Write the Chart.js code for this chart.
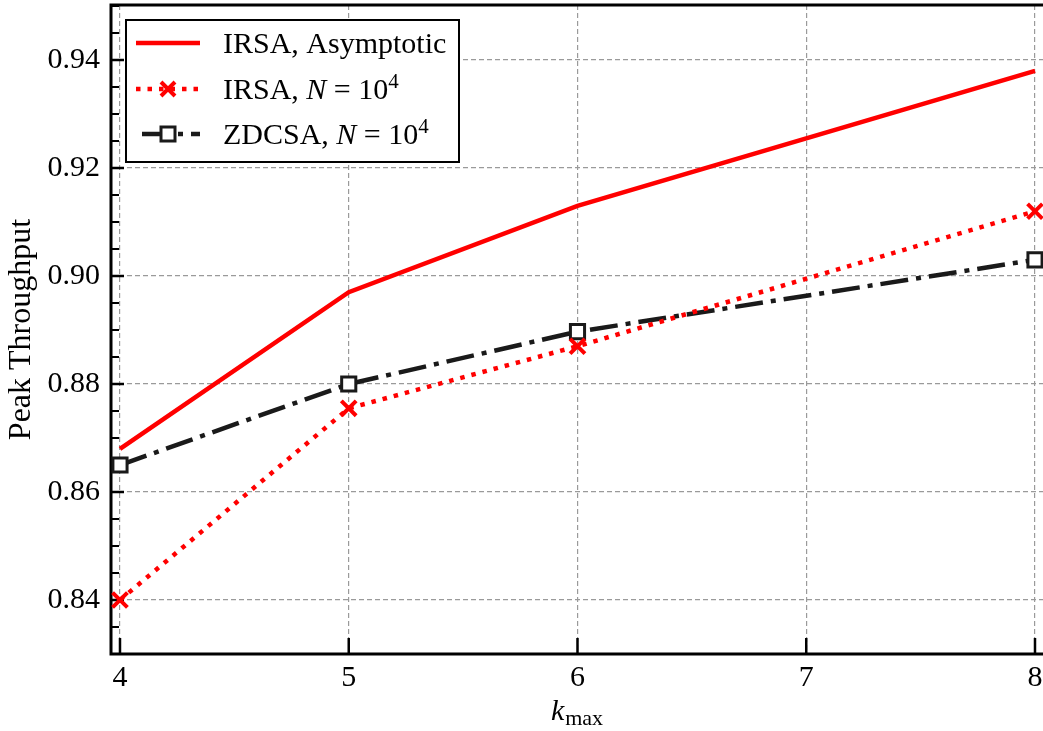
<!DOCTYPE html>
<html>
<head>
<meta charset="utf-8">
<script src="https://cdn.jsdelivr.net/npm/chart.js@4.4.1/dist/chart.umd.min.js"></script>
<style>
  html, body { margin: 0; padding: 0; background: #fff; }
  #wrap { width: 1043px; height: 731px; position: relative; }
</style>
</head>
<body>
<div id="wrap"><canvas id="plot"></canvas></div>
<script>
// values
const kMax = [4, 5, 6, 8];
const irsaAsymptotic = [0.868, 0.897, 0.913, 0.938];
const irsaN1e4 = [0.840, 0.8755, 0.887, 0.912];
const zdcsaN1e4 = [0.865, 0.880, 0.8897, 0.903];

const xTicks = [4, 5, 6, 7, 8];
const yTicks = [0.84, 0.86, 0.88, 0.90, 0.92, 0.94];
const yMinorStep = 0.005;

const FONT = '"Liberation Serif", "Times New Roman", serif';
const RED = '#ff0000';
const DARK = '#1a1a1a';
const GRID = '#9a9a9a';
const DASHDOT = [28, 8, 5, 8];

function pts(ys){ return kMax.map((x, i) => ({ x: x, y: ys[i] })); }

/* ------------------------------
   frame + inward ticks
--------------------------------*/
const framePlugin = {
  id: 'frame',
  beforeDatasetsDraw(chart){
    const { ctx, chartArea: a, scales } = chart;
    const x = scales.x, y = scales.y;
    ctx.save();
    ctx.strokeStyle = '#000';
    ctx.lineCap = 'butt';

    // x ticks (major only)
    ctx.lineWidth = 2.5;
    ctx.beginPath();
    xTicks.forEach(v => {
      const px = x.getPixelForValue(v);
      ctx.moveTo(px, a.bottom);
      ctx.lineTo(px, a.bottom - 16);
    });
    // y major ticks
    yTicks.forEach(v => {
      const py = y.getPixelForValue(v);
      ctx.moveTo(a.left, py);
      ctx.lineTo(a.left + 13, py);
    });
    ctx.stroke();

    // y minor ticks
    ctx.lineWidth = 2;
    ctx.beginPath();
    const start = Math.ceil(y.min / yMinorStep);
    const end = Math.floor(y.max / yMinorStep);
    for (let i = start; i <= end; i++) {
      const v = i * yMinorStep;
      if (yTicks.some(t => Math.abs(t - v) < 1e-6)) continue;
      const py = y.getPixelForValue(v);
      ctx.moveTo(a.left, py);
      ctx.lineTo(a.left + 8, py);
    }
    ctx.stroke();

    // spines (right one falls outside the picture)
    ctx.lineWidth = 3;
    ctx.beginPath();
    ctx.moveTo(a.right + 4, a.top);
    ctx.lineTo(a.left, a.top);
    ctx.lineTo(a.left, a.bottom);
    ctx.lineTo(a.right + 4, a.bottom);
    ctx.stroke();
    ctx.restore();
  },

  afterDraw(chart){
    const { ctx, chartArea: a } = chart;
    ctx.save();
    ctx.fillStyle = '#000';

    // y axis title
    ctx.save();
    ctx.translate(22, (a.top + a.bottom) / 2);
    ctx.rotate(-Math.PI / 2);
    ctx.font = '32px ' + FONT;
    ctx.textAlign = 'center';
    ctx.textBaseline = 'middle';
    ctx.fillText('Peak Throughput', 0, 0);
    ctx.restore();

    // x axis title: k_max
    ctx.textBaseline = 'alphabetic';
    ctx.textAlign = 'left';
    ctx.font = 'italic 30px ' + FONT;
    const kw = ctx.measureText('k').width;
    ctx.font = '22px ' + FONT;
    const mw = ctx.measureText('max').width;
    const cx = (a.left + a.right) / 2;
    let tx = cx - (kw + 1 + mw) / 2;
    ctx.font = 'italic 30px ' + FONT;
    ctx.fillText('k', tx, 720);
    ctx.font = '22px ' + FONT;
    ctx.fillText('max', tx + kw + 1, 725);

    drawLegend(ctx);
    ctx.restore();
  }
};

/* ------------------------------
   LEGEND (drawn by hand)
--------------------------------*/
function richText(ctx, parts, x, base){
  parts.forEach(p => {
    if (p[1] === 'i') ctx.font = 'italic 30px ' + FONT;
    else if (p[1] === 'sup') ctx.font = '21px ' + FONT;
    else ctx.font = '30px ' + FONT;
    const dy = p[1] === 'sup' ? -11 : 0;
    ctx.fillText(p[0], x, base + dy);
    x += ctx.measureText(p[0]).width;
  });
}

function drawLegend(ctx){
  const box = { l: 126, t: 20, r: 459, b: 162 };
  ctx.save();
  ctx.fillStyle = '#fff';
  ctx.fillRect(box.l, box.t, box.r - box.l, box.b - box.t);
  ctx.strokeStyle = '#000';
  ctx.lineWidth = 2;
  ctx.strokeRect(box.l, box.t, box.r - box.l, box.b - box.t);

  const rows = [
    { base: 53, color: RED, width: 4.5, dash: [], off: 0, marker: null,
      parts: [['IRSA, Asymptotic', 'n']] },
    { base: 99, color: RED, width: 4.5, dash: [4.5, 7], off: 0, marker: 'x',
      parts: [['IRSA, ', 'n'], ['N', 'i'], [' = 10', 'n'], ['4', 'sup']] },
    { base: 144, color: DARK, width: 4.5, dash: DASHDOT, off: 43, marker: 'sq',
      parts: [['ZDCSA, ', 'n'], ['N', 'i'], [' = 10', 'n'], ['4', 'sup']] }
  ];

  rows.forEach(r => {
    const ly = r.base - 10;
    ctx.strokeStyle = r.color;
    ctx.lineWidth = r.width;
    ctx.setLineDash(r.dash);
    ctx.lineDashOffset = r.off;
    ctx.beginPath();
    ctx.moveTo(136, ly);
    ctx.lineTo(200, ly);
    ctx.stroke();
    ctx.setLineDash([]);
    if (r.marker === 'x') {
      ctx.lineWidth = 4;
      ctx.beginPath();
      ctx.moveTo(161, ly - 7); ctx.lineTo(175, ly + 7);
      ctx.moveTo(161, ly + 7); ctx.lineTo(175, ly - 7);
      ctx.stroke();
    } else if (r.marker === 'sq') {
      ctx.lineWidth = 3;
      ctx.fillStyle = '#fff';
      ctx.fillRect(161, ly - 7, 14, 14);
      ctx.strokeRect(161, ly - 7, 14, 14);
    }
    ctx.fillStyle = '#000';
    ctx.textBaseline = 'alphabetic';
    ctx.textAlign = 'left';
    richText(ctx, r.parts, 223, r.base);
  });
  ctx.restore();
}

/* ------------------------------
   CHART
--------------------------------*/
const ctx = document.getElementById('plot').getContext('2d');

new Chart(ctx, {
  type: 'line',
  data: {
    datasets: [
      {
        label: 'IRSA, Asymptotic',
        data: pts(irsaAsymptotic),
        borderColor: RED,
        borderWidth: 4.5,
        pointRadius: 0,
        fill: false
      },
      {
        label: 'IRSA, N=10^4',
        data: pts(irsaN1e4),
        borderColor: RED,
        borderWidth: 4.5,
        borderDash: [4.5, 7],
        pointStyle: 'crossRot',
        pointRadius: 10.5,
        pointBorderWidth: 4,
        pointBorderColor: RED,
        fill: false
      },
      {
        label: 'ZDCSA, N=10^4',
        data: pts(zdcsaN1e4),
        borderColor: DARK,
        borderWidth: 4.5,
        borderDash: DASHDOT,
        pointStyle: 'rect',
        pointRadius: 10,
        pointBorderWidth: 3,
        pointBorderColor: DARK,
        pointBackgroundColor: '#fff',
        fill: false
      }
    ]
  },
  options: {
    responsive: true,
    maintainAspectRatio: false,
    animation: false,
    events: [],
    layout: { autoPadding: false, padding: { top: 5, right: 0, left: 0, bottom: 0 } },
    plugins: {
      legend: { display: false },
      tooltip: { enabled: false }
    },
    scales: {
      x: {
        type: 'linear',
        min: 3.9607,
        max: 8.035,
        afterBuildTicks: s => { s.ticks = xTicks.map(v => ({ value: v })); },
        afterFit: s => {
          s.height = 77;
          s.paddingLeft = 0;
          s.paddingRight = 0;
        },
        ticks: {
          autoSkip: false,
          maxRotation: 0,
          padding: 0,
          color: '#000',
          font: { family: FONT, size: 30 },
          callback: v => String(v)
        },
        grid: { color: GRID, lineWidth: 1.2, drawTicks: true, tickLength: 6, tickColor: 'rgba(0,0,0,0)' },
        border: { display: false, dash: [5, 3] }
      },
      y: {
        type: 'linear',
        min: 0.83,
        max: 0.9502,
        afterBuildTicks: s => { s.ticks = yTicks.map(v => ({ value: v })); },
        afterFit: s => {
          s.width = 111;
          s.paddingTop = 0;
          s.paddingBottom = 0;
        },
        ticks: {
          padding: 0,
          color: '#000',
          font: { family: FONT, size: 30, lineHeight: 0.3 },
          callback: v => v.toFixed(2)
        },
        grid: { color: GRID, lineWidth: 1.2, drawTicks: true, tickLength: 11, tickColor: 'rgba(0,0,0,0)' },
        border: { display: false, dash: [5, 3] }
      }
    }
  },
  plugins: [framePlugin]
});
</script>
</body>
</html>
